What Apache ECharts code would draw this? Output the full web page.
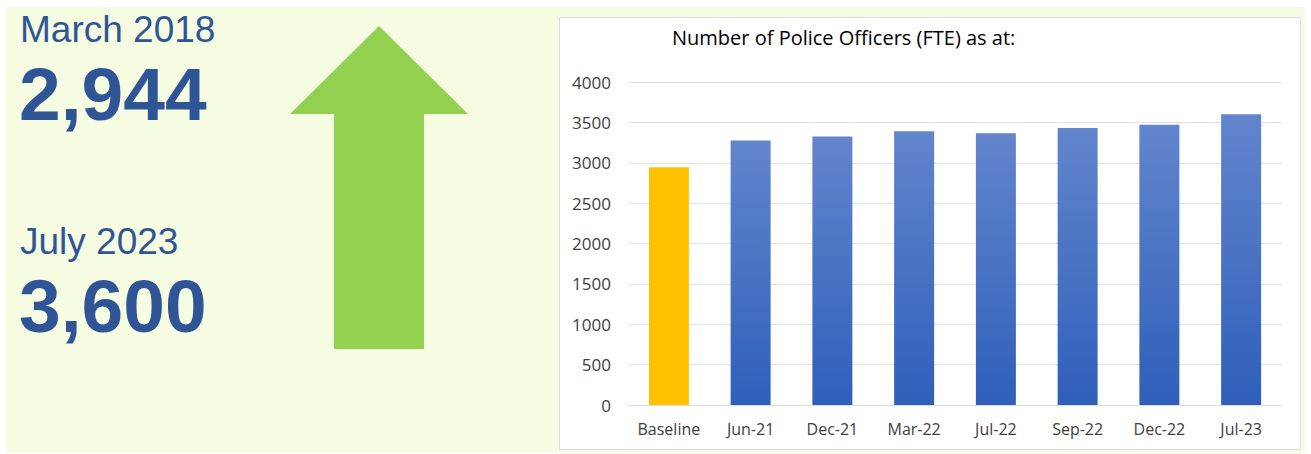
<!DOCTYPE html>
<html><head><meta charset="utf-8">
<script src="https://cdn.jsdelivr.net/npm/echarts@6/dist/echarts.min.js"></script>
<style>html,body{margin:0;padding:0;background:#fff}#c{width:1311px;height:454px}</style>
</head><body><div id="c"></div>
<script>
const categories = ['Baseline','Jun-21','Dec-21','Mar-22','Jul-22','Sep-22','Dec-22','Jul-23'];
const officers = [2944, 3275, 3325, 3390, 3365, 3430, 3470, 3600];
const yTicks = [0, 500, 1000, 1500, 2000, 2500, 3000, 3500, 4000];
const headline = [
  {label: 'March 2018', value: '2,944'},
  {label: 'July 2023', value: '3,600'}
];
const chartTitle = 'Number of Police Officers (FTE) as at:';

const blueGrad = new echarts.graphic.LinearGradient(0,0,0,1,[{offset:0,color:'#6285cd'},{offset:1,color:'#2f5fba'}]);
const chart = echarts.init(document.getElementById('c'), null, {renderer:'svg'});
const textColor = '#2f5597';
const labelFont = '"Open Sans", "Liberation Sans", sans-serif';
chart.setOption({
  animation:false,
  graphic:[
    {type:'rect', z:-10, shape:{x:6,y:7,width:1299,height:446}, style:{fill:'#f5fce1'}},
    {type:'rect', z:-9, shape:{x:559.5,y:17.5,width:741,height:432}, style:{fill:'#ffffff', stroke:'#d9dde3', lineWidth:1}},
    {type:'polygon', shape:{points:[[379,26],[468,114],[424,114],[424,349],[334,349],[334,114],[290,114]]}, style:{fill:'#92d050'}},
    {type:'text', left:20, top:11, style:{text:headline[0].label, font:'37px "Liberation Sans", Arial, sans-serif', fill:textColor}},
    {type:'text', left:19, top:56, style:{text:headline[0].value, font:'bold 75px "Liberation Sans", Arial, sans-serif', fill:textColor}},
    {type:'text', left:20, top:223, style:{text:headline[1].label, font:'37px "Liberation Sans", Arial, sans-serif', fill:textColor}},
    {type:'text', left:19, top:268, style:{text:headline[1].value, font:'bold 75px "Liberation Sans", Arial, sans-serif', fill:textColor}},
    {type:'text', left:672, top:27, style:{text:chartTitle, font:'20px ' + labelFont, fill:'#000'}}
  ],
  grid:{left:628, right:29, top:82, bottom:49, containLabel:false},
  xAxis:{type:'category', data:categories,
    axisLine:{lineStyle:{color:'#d9dde3'}}, axisTick:{show:false},
    axisLabel:{color:'#404040', fontSize:16, margin:16, interval:0, hideOverlap:false, fontFamily:labelFont}},
  yAxis:{type:'value', min:yTicks[0], max:yTicks[yTicks.length-1], interval:500,
    axisLine:{show:false}, axisTick:{show:false},
    splitLine:{lineStyle:{color:'#dfe3e9', width:1}},
    axisLabel:{color:'#404040', fontSize:17, margin:17, fontFamily:labelFont, formatter:v=>String(v)}},
  series:[{type:'bar', barWidth:40,
    data: officers.map((v,i)=>({value:v, itemStyle:{color: i===0 ? '#ffc000' : blueGrad}}))}]
});
</script></body></html>
